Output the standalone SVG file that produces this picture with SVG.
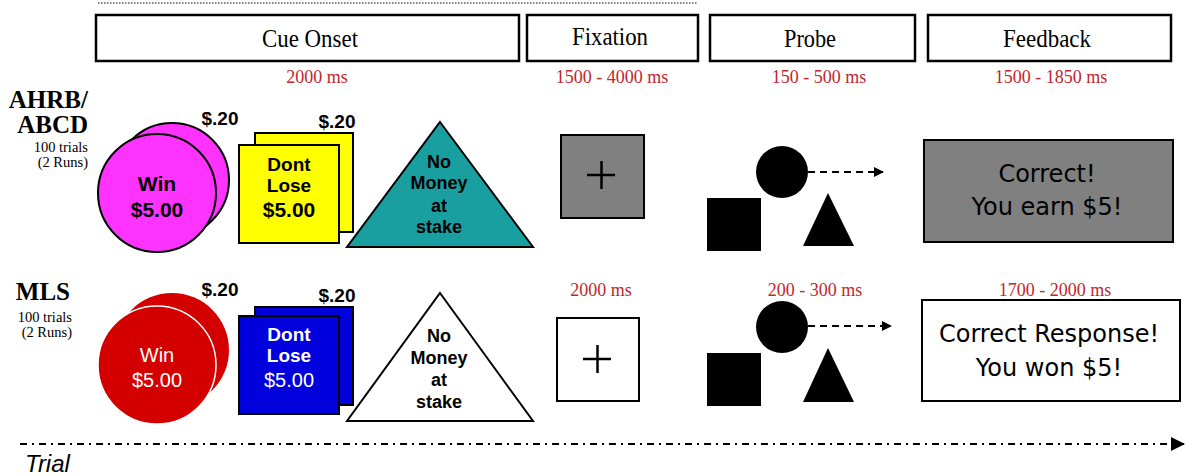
<svg xmlns="http://www.w3.org/2000/svg" width="1186" height="476" viewBox="0 0 1186 476">
<defs>
<marker id="ah" markerWidth="10" markerHeight="10" refX="9" refY="5" orient="auto" markerUnits="userSpaceOnUse"><path d="M0,0 L10,5 L0,10 Z" fill="#000"/></marker>
<marker id="ah2" markerWidth="14" markerHeight="14" refX="13" refY="7" orient="auto" markerUnits="userSpaceOnUse"><path d="M0,0 L14,7 L0,14 Z" fill="#000"/></marker>
</defs>
<style>
.hdr{fill:#fff;stroke:#000;stroke-width:2.5}
.ht{font-family:"Liberation Serif",serif;font-size:26px;text-anchor:middle;fill:#000}
.tm{font-family:"Liberation Serif",serif;font-size:18px;text-anchor:middle;fill:#c0262c}
.grp{font-family:"Liberation Serif",serif;font-weight:bold;font-size:25px;text-anchor:end;fill:#000}
.tr{font-family:"Liberation Serif",serif;font-size:14.5px;text-anchor:end;fill:#000}
.cb{font-family:"Liberation Sans",Arial,sans-serif;font-weight:bold;font-size:21px;text-anchor:middle;fill:#000}
.cb2{font-family:"Liberation Sans",Arial,sans-serif;font-weight:bold;font-size:19px;text-anchor:middle;fill:#000}
.cw{font-family:"Liberation Sans",Arial,sans-serif;font-size:20px;text-anchor:middle;fill:#fff}
.cwb{font-family:"Liberation Sans",Arial,sans-serif;font-weight:bold;font-size:19px;text-anchor:middle;fill:#fff}
.tri{font-family:"Liberation Sans",Arial,sans-serif;font-weight:bold;font-size:18px;text-anchor:middle;fill:#000}
.amt{font-family:"Liberation Sans",Arial,sans-serif;font-weight:bold;font-size:19px;text-anchor:middle;fill:#000}
.fb{font-family:"DejaVu Sans",Verdana,sans-serif;font-size:24px;text-anchor:middle;fill:#000}
.blk{fill:#000}
</style>

<line x1="98" y1="3" x2="698" y2="3" stroke="#000" stroke-width="1" stroke-dasharray="1.5,1.5"/>

<g id="hdr-cue"><rect class="hdr" x="96" y="15" width="423" height="46"/><text class="ht" x="310" y="47" textLength="96" lengthAdjust="spacingAndGlyphs">Cue Onset</text></g>
<g id="hdr-fix"><rect class="hdr" x="527" y="15" width="171" height="46"/><text class="ht" x="610" y="45" textLength="76" lengthAdjust="spacingAndGlyphs">Fixation</text></g>
<g id="hdr-probe"><rect class="hdr" x="710" y="15" width="205" height="46"/><text class="ht" x="810" y="47" textLength="52" lengthAdjust="spacingAndGlyphs">Probe</text></g>
<g id="hdr-fb"><rect class="hdr" x="928" y="15" width="243" height="46"/><text class="ht" x="1047" y="47" textLength="88" lengthAdjust="spacingAndGlyphs">Feedback</text></g>

<g id="timings1">
<text class="tm" x="317" y="83">2000 ms</text>
<text class="tm" x="612" y="83">1500 - 4000 ms</text>
<text class="tm" x="819" y="83">150 - 500 ms</text>
<text class="tm" x="1051" y="83">1500 - 1850 ms</text>
</g>

<g id="label-ahrb">
<text class="grp" x="88" y="108">AHRB/</text>
<text class="grp" x="88" y="133">ABCD</text>
<text class="tr" x="88" y="152">100 trials</text>
<text class="tr" x="88" y="167">(2 Runs)</text>
</g>

<g id="win1">
<circle cx="172" cy="180" r="57" fill="#ff33ff" stroke="#000" stroke-width="2"/>
<circle cx="157" cy="193" r="59" fill="#ff33ff" stroke="#000" stroke-width="2"/>
<text class="cb" x="157" y="191">Win</text>
<text class="cb" x="157" y="217">$5.00</text>
<text class="amt" x="220" y="125">$.20</text>
</g>

<g id="lose1">
<rect x="255" y="133" width="98" height="99" fill="#ffff00" stroke="#000" stroke-width="2"/>
<rect x="239" y="145" width="100" height="98" fill="#ffff00" stroke="#000" stroke-width="2"/>
<text class="cb2" x="289" y="171">Dont</text>
<text class="cb2" x="289" y="192">Lose</text>
<text class="cb" x="289" y="217">$5.00</text>
<text class="amt" x="337" y="128">$.20</text>
</g>

<g id="nomoney1">
<polygon points="440,122 533,247 347,247" fill="#1a9fa0" stroke="#000" stroke-width="2"/>
<text class="tri" x="439" y="168">No</text>
<text class="tri" x="439" y="189">Money</text>
<text class="tri" x="439" y="212">at</text>
<text class="tri" x="439" y="233">stake</text>
</g>

<g id="fix1">
<rect x="561" y="135" width="83" height="83" fill="#808080" stroke="#000" stroke-width="2"/>
<path d="M587,175 H615 M601.5,161 V189" stroke="#000" stroke-width="2.5"/>
</g>

<g id="probe1">
<circle cx="782" cy="172" r="26" class="blk"/>
<rect x="707" y="198" width="54" height="53" class="blk"/>
<polygon points="828,193 854,246 803,246" class="blk"/>
</g>

<g id="fb1">
<rect x="924" y="140" width="249" height="102" fill="#808080" stroke="#000" stroke-width="2"/>
<text class="fb" x="1047" y="182">Correct!</text>
<text class="fb" x="1047" y="215">You earn $5!</text>
</g>

<g id="label-mls">
<text class="grp" x="70" y="300">MLS</text>
<text class="tr" x="72" y="322">100 trials</text>
<text class="tr" x="72" y="337">(2 Runs)</text>
</g>

<g id="win2">
<circle cx="172" cy="350" r="57" fill="#d40000"/>
<circle cx="157" cy="365" r="59" fill="#d40000" stroke="#fff" stroke-width="1.5"/>
<text class="cw" x="157" y="362">Win</text>
<text class="cw" x="157" y="387">$5.00</text>
<text class="amt" x="220" y="296">$.20</text>
</g>

<g id="lose2">
<rect x="255" y="307" width="98" height="98" fill="#0000dd" stroke="#000" stroke-width="2"/>
<rect x="239" y="316" width="100" height="98" fill="#0000dd" stroke="#000" stroke-width="2"/>
<text class="cwb" x="289" y="341">Dont</text>
<text class="cwb" x="289" y="362">Lose</text>
<text class="cw" x="289" y="387">$5.00</text>
<text class="amt" x="337" y="302">$.20</text>
</g>

<g id="nomoney2">
<polygon points="440,293 533,421 347,421" fill="#fff" stroke="#000" stroke-width="2"/>
<text class="tri" x="439" y="342">No</text>
<text class="tri" x="439" y="364">Money</text>
<text class="tri" x="439" y="386">at</text>
<text class="tri" x="439" y="408">stake</text>
</g>

<g id="timings2">
<text class="tm" x="601" y="296">2000 ms</text>
<text class="tm" x="815" y="296">200 - 300 ms</text>
<text class="tm" x="1055" y="296">1700 - 2000 ms</text>
</g>

<g id="fix2">
<rect x="557" y="318" width="82" height="83" fill="#fff" stroke="#000" stroke-width="2"/>
<path d="M583,359 H611 M597.5,345 V373" stroke="#000" stroke-width="2.5"/>
</g>

<g id="probe2">
<circle cx="782" cy="327" r="26" class="blk"/>
<rect x="707" y="353" width="54" height="53" class="blk"/>
<polygon points="828,348 854,402 803,402" class="blk"/>
</g>

<g id="fb2">
<rect x="922" y="300" width="258" height="101" fill="#fff" stroke="#000" stroke-width="2"/>
<text class="fb" x="1049" y="342">Correct Response!</text>
<text class="fb" x="1049" y="376">You won $5!</text>
</g>

<g id="connectors">
<line x1="808" y1="172" x2="883" y2="172" stroke="#000" stroke-width="2" stroke-dasharray="7,5" marker-end="url(#ah)"/>
<line x1="808" y1="326" x2="891" y2="326" stroke="#000" stroke-width="2" stroke-dasharray="7,5" marker-end="url(#ah)"/>
<line x1="20" y1="444" x2="1184" y2="444" stroke="#000" stroke-width="2" stroke-dasharray="7,5,2,5" marker-end="url(#ah2)"/>
</g>

<text x="25" y="472" font-family="'Liberation Sans',Arial,sans-serif" font-style="italic" font-size="24" fill="#000">Trial</text>
</svg>
